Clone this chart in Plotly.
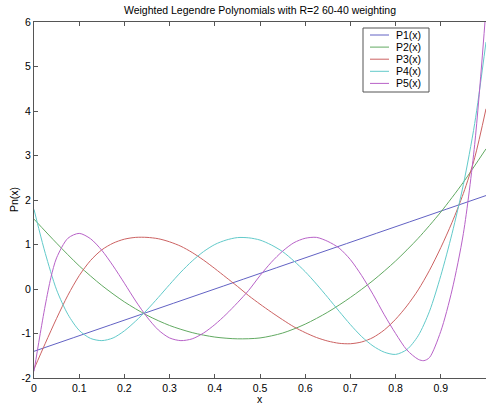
import plotly.graph_objects as go

# ---------------- data ----------------
title_text = "Weighted Legendre Polynomials with R=2 60-40 weighting"
x_label = "x"
y_label = "Pn(x)"

series_names = ["P1(x)", "P2(x)", "P3(x)", "P4(x)", "P5(x)"]
series_colors = ["#6262c4", "#62aa62", "#cc6262", "#62caca", "#b862c8"]

x_ticks = [0, 0.1, 0.2, 0.3, 0.4, 0.5, 0.6, 0.7, 0.8, 0.9, 1.0]
x_tick_labels = ["0", "0.1", "0.2", "0.3", "0.4", "0.5", "0.6", "0.7", "0.8", "0.9", "1"]
y_ticks = [-2, -1, 0, 1, 2, 3, 4, 5, 6]
y_tick_labels = ["-2", "-1", "0", "1", "2", "3", "4", "5", "6"]

x_p1 = [0.0, 0.5, 1.0]
y_p1 = [-1.40, 0.35, 2.10]

x_p2 = [0.00, 0.05, 0.10, 0.15, 0.20, 0.25, 0.30, 0.35, 0.40, 0.45, 0.50,
        0.55, 0.60, 0.65, 0.70, 0.75, 0.80, 0.85, 0.90, 0.95, 1.00]
y_p2 = [1.57, 1.03, 0.52, 0.08, -0.29, -0.59, -0.82, -0.98, -1.08, -1.12, -1.10,
        -0.99, -0.79, -0.52, -0.19, 0.19, 0.63, 1.14, 1.73, 2.40, 3.15]

x_p3 = [0.000, 0.025, 0.050, 0.075, 0.100, 0.125, 0.150, 0.175, 0.200, 0.225,
        0.250, 0.275, 0.300, 0.325, 0.350, 0.375, 0.400, 0.425, 0.450, 0.475,
        0.500, 0.525, 0.550, 0.575, 0.600, 0.625, 0.650, 0.675, 0.700, 0.725,
        0.750, 0.775, 0.800, 0.825, 0.850, 0.875, 0.900, 0.925, 0.950, 0.975, 1.000]
y_p3 = [-1.80, -1.22, -0.66, -0.14, 0.30, 0.64, 0.88, 1.03, 1.12, 1.16,
        1.16, 1.13, 1.06, 0.96, 0.82, 0.65, 0.46, 0.26, 0.06, -0.15,
        -0.34, -0.52, -0.69, -0.85, -0.98, -1.09, -1.17, -1.22, -1.23, -1.19,
        -1.09, -0.92, -0.68, -0.38, -0.02, 0.42, 0.93, 1.50, 2.15, 2.95, 4.05]

x_p4 = [0.000, 0.0125, 0.025, 0.050, 0.075, 0.100, 0.125, 0.150, 0.175, 0.200,
        0.225, 0.250, 0.275, 0.300, 0.325, 0.350, 0.375, 0.400, 0.425, 0.450,
        0.475, 0.500, 0.525, 0.550, 0.575, 0.600, 0.625, 0.650, 0.675, 0.700,
        0.725, 0.750, 0.775, 0.800, 0.825, 0.850, 0.875, 0.900, 0.925, 0.950,
        0.975, 1.000]
y_p4 = [1.79, 1.28, 0.80, -0.02, -0.57, -0.93, -1.11, -1.16, -1.10, -0.94,
        -0.72, -0.47, -0.19, 0.10, 0.38, 0.63, 0.84, 1.00, 1.10, 1.155,
        1.15, 1.10, 0.99, 0.84, 0.63, 0.39, 0.11, -0.19, -0.50, -0.80,
        -1.07, -1.28, -1.42, -1.47, -1.36, -1.05, -0.50, 0.30, 1.25, 2.35,
        3.72, 5.55]

x_p5 = [0.000, 0.0125, 0.025, 0.0375, 0.050, 0.075, 0.100, 0.125, 0.150, 0.175,
        0.200, 0.225, 0.250, 0.275, 0.300, 0.325, 0.350, 0.375, 0.400, 0.425,
        0.450, 0.475, 0.500, 0.525, 0.550, 0.575, 0.600, 0.625, 0.650, 0.675,
        0.700, 0.725, 0.750, 0.775, 0.800, 0.825, 0.850, 0.8625, 0.875, 0.900,
        0.925, 0.950, 0.975, 1.000]
y_p5 = [-1.85, -1.08, -0.36, 0.26, 0.70, 1.14, 1.25, 1.13, 0.87, 0.52,
        0.13, -0.27, -0.63, -0.92, -1.10, -1.16, -1.12, -0.99, -0.80, -0.57,
        -0.31, -0.03, 0.30, 0.60, 0.85, 1.04, 1.14, 1.16, 1.07, 0.92,
        0.66, 0.30, -0.12, -0.58, -1.00, -1.37, -1.58, -1.61, -1.54, -0.95,
        -0.02, 1.25, 3.25, 6.30]

series_x = [x_p1, x_p2, x_p3, x_p4, x_p5]
series_y = [y_p1, y_p2, y_p3, y_p4, y_p5]

# ---------------- layout geometry (pixels) ----------------
W, H = 486, 407
ML, MR, MT, MB = 34, 0, 22, 29
PW = W - ML - MR
PH = H - MT - MB

def paper_x(px):
    return (px - ML) / PW

def paper_y(py):
    return (H - MB - py) / PH

FONT = "Liberation Sans, Arial, Helvetica, sans-serif"
AXIS_COLOR = "#555555"

fig = go.Figure()
for name, xs, ys, col in zip(series_names, series_x, series_y, series_colors):
    fig.add_trace(go.Scatter(
        x=xs, y=ys, mode="lines", name=name,
        line=dict(color=col, width=1, shape="spline", smoothing=0.8),
        showlegend=False, hoverinfo="skip"))

tick_common = dict(
    showgrid=False, zeroline=False, ticks="inside", ticklen=4,
    tickcolor=AXIS_COLOR, tickwidth=1, automargin=False,
    tickfont=dict(family=FONT, size=10.5, color="#000000"),
)

fig.update_layout(
    template="none",
    width=W, height=H,
    margin=dict(l=ML, r=MR, t=MT, b=MB, pad=0),
    paper_bgcolor="#ffffff", plot_bgcolor="#ffffff",
    showlegend=False,
    title=dict(text=title_text, x=0.5, xref="paper", xanchor="center",
               y=1 - 10 / H, yref="container", yanchor="middle",
               font=dict(family=FONT, size=10.5, color="#000000")),
    xaxis=dict(range=[0, 1], tickvals=x_ticks, ticktext=x_tick_labels,
               showline=True, linecolor=AXIS_COLOR, linewidth=1, mirror="ticks",
               **tick_common),
    yaxis=dict(range=[-2, 6], tickvals=y_ticks, ticktext=y_tick_labels,
               showline=True, linecolor=AXIS_COLOR, linewidth=1, mirror=False,
               **tick_common),
    # right-hand ticks only (the right frame line lies just outside the picture)
    yaxis2=dict(range=[-2, 6], tickvals=y_ticks, showticklabels=False,
                overlaying="y", side="right", showline=False, **tick_common),
)

annotations = [
    dict(text=x_label, xref="paper", yref="paper", x=0.5, y=0,
         xanchor="center", yanchor="middle", yshift=-21, showarrow=False,
         font=dict(family=FONT, size=10.5, color="#000000")),
    dict(text=y_label, xref="paper", yref="paper", x=0, y=0.5,
         xanchor="center", yanchor="middle", xshift=-20, textangle=-90,
         showarrow=False, font=dict(family=FONT, size=10.5, color="#000000")),
]

# manual legend box (MATLAB style)
shapes = [dict(type="rect", xref="paper", yref="paper", layer="above",
               x0=paper_x(363), x1=paper_x(429), y0=paper_y(92), y1=paper_y(28),
               line=dict(color=AXIS_COLOR, width=1), fillcolor="#ffffff")]
for i, (name, col) in enumerate(zip(series_names, series_colors)):
    yy = paper_y(35.0 + 12.1 * i)
    shapes.append(dict(type="line", xref="paper", yref="paper", layer="above",
                       x0=paper_x(370), x1=paper_x(389), y0=yy, y1=yy,
                       line=dict(color=col, width=1)))
    annotations.append(dict(text=name, xref="paper", yref="paper",
                            x=paper_x(394), y=yy, xanchor="left", yanchor="middle",
                            showarrow=False,
                            font=dict(family=FONT, size=10.5, color="#000000")))

fig.update_layout(shapes=shapes, annotations=annotations)

fig.write_html(
    "out.html",
    config={"displayModeBar": False},
    post_script="document.body.style.margin='0';document.body.style.overflow='hidden';",
)
